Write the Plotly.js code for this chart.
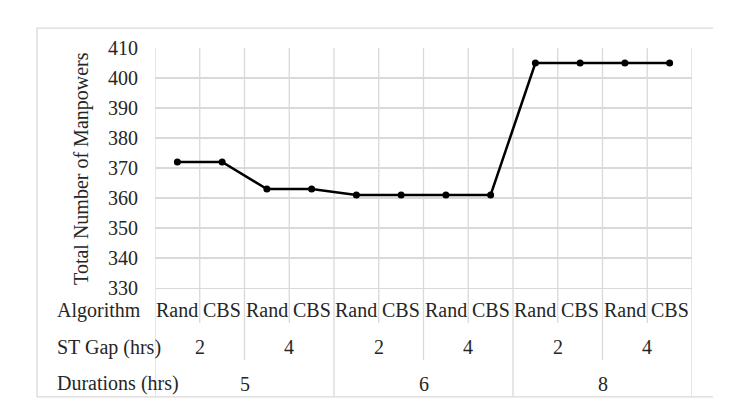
<!DOCTYPE html>
<html>
<head>
<meta charset="utf-8">
<script src="https://cdn.plot.ly/plotly-3.0.1.min.js"></script>
<style>html,body{margin:0;padding:0;background:#fff;}#chart{width:744px;height:415px;}</style>
</head>
<body>
<div id="chart"></div>
<script>
// ---- data ----
const durations = ['5', '6', '8'];
const stGaps = ['2', '4'];
const algorithms = ['Rand', 'CBS'];
const manpowers = [372, 372, 363, 363, 361, 361, 361, 361, 405, 405, 405, 405];
const yTicks = [330, 340, 350, 360, 370, 380, 390, 400, 410];
const rowHeaders = ['Algorithm', 'ST Gap (hrs)', 'Durations (hrs)'];
const yTitle = 'Total Number of Manpowers';

// ---- build category index ----
const cats = [];
durations.forEach(d => stGaps.forEach(g => algorithms.forEach(a => cats.push({d, g, a}))));
const xs = cats.map((_, i) => i);

const FONT = 'Liberation Serif, Times New Roman, serif';
const TXT = '#262626';
const GRID = '#d9d9d9';
const FS = 20;

const rowY = [-0.092, -0.246, -0.398];
const annotations = [];
cats.forEach((c, i) => annotations.push({x: i, y: rowY[0], xref: 'x', yref: 'paper', text: c.a, showarrow: false, xanchor: 'center', yanchor: 'middle', font: {family: FONT, size: FS, color: TXT}}));
const perDur = stGaps.length * algorithms.length;
durations.forEach((d, di) => {
  stGaps.forEach((g, gi) => {
    const start = di * perDur + gi * algorithms.length;
    annotations.push({x: start + (algorithms.length - 1) / 2, y: rowY[1], xref: 'x', yref: 'paper', text: g, showarrow: false, xanchor: 'center', yanchor: 'middle', font: {family: FONT, size: FS, color: TXT}});
  });
  annotations.push({x: di * perDur + (perDur - 1) / 2, y: rowY[2], xref: 'x', yref: 'paper', text: d, showarrow: false, xanchor: 'center', yanchor: 'middle', font: {family: FONT, size: FS, color: TXT}});
});
rowHeaders.forEach((h, r) => annotations.push({x: -0.186, y: rowY[r], xref: 'paper', yref: 'paper', text: h, showarrow: false, xanchor: 'left', yanchor: 'middle', font: {family: FONT, size: FS, color: TXT}}));
annotations.push({x: -0.138, y: 0.5, xref: 'paper', yref: 'paper', text: yTitle, textangle: -90, showarrow: false, xanchor: 'center', yanchor: 'middle', font: {family: FONT, size: FS, color: TXT}});

const shapes = [];
for (let k = 0; k <= cats.length; k++) {
  let end = -0.146;
  if (k % perDur === 0) end = -0.454;
  else if (k % algorithms.length === 0) end = -0.30;
  shapes.push({type: 'line', xref: 'x', yref: 'paper', x0: k - 0.5, x1: k - 0.5, y0: 1, y1: end, line: {color: GRID, width: 1.3}, layer: 'below'});
}
// outer frame (top, left, bottom)
shapes.push({type: 'path', xref: 'paper', yref: 'paper', path: 'M 1.039 1.083 L -0.2197 1.083 L -0.2197 -0.454 L 1.039 -0.454', line: {color: GRID, width: 1.3}});

const trace = {
  x: xs, y: manpowers, type: 'scatter', mode: 'lines+markers',
  line: {color: '#000', width: 2.5},
  marker: {color: '#000', size: 7},
  hoverinfo: 'skip', cliponaxis: false
};

const layout = {
  width: 744, height: 415,
  margin: {l: 155, r: 52, t: 48, b: 127, pad: 0},
  paper_bgcolor: '#fff', plot_bgcolor: '#fff',
  showlegend: false,
  xaxis: {range: [-0.5, cats.length - 0.5], showgrid: false, zeroline: false, showticklabels: false, ticks: '', showline: true, linecolor: GRID, linewidth: 1.3, fixedrange: true},
  yaxis: {range: [yTicks[0], yTicks[yTicks.length - 1]], tickvals: yTicks, showgrid: true, gridcolor: GRID, gridwidth: 1.3, zeroline: false, showline: false, ticks: '', ticklabelstandoff: 16, tickfont: {family: FONT, size: FS, color: TXT}, fixedrange: true},
  annotations, shapes
};

Plotly.newPlot('chart', [trace], layout, {displayModeBar: false, staticPlot: true});
</script>
</body>
</html>
